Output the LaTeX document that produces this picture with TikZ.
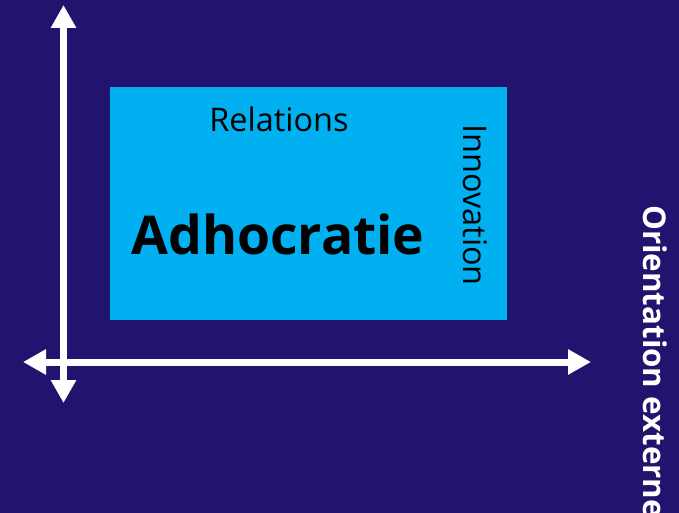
\documentclass[tikz,border=0pt]{standalone}
\usepackage{fontspec}
\setmainfont{Open Sans}
\usetikzlibrary{arrows.meta}

\definecolor{navy}{RGB}{32,20,110}
\definecolor{boxcyan}{RGB}{0,176,240}

\tikzset{
  axis/.style={line width=7pt,white,{Triangle[width=24pt,length=23pt]}-{Triangle[width=24pt,length=23pt]}},
  label/.style={inner sep=0pt,font=\fontsize{32.5}{38}\selectfont}
}

\begin{document}
\begin{tikzpicture}[x=1pt,y=-1pt]
  \fill[navy] (0,0) rectangle (679,513);
  \useasboundingbox (0,0) rectangle (679,513);
  % the quadrant box
  \node[fill=boxcyan,minimum width=397pt,minimum height=233pt,inner sep=0pt] (box) at (308.5,203.5) {};
  \node[label] (relations) at (279,119) {Relations};
  \node[label,font=\bfseries\fontsize{53.5}{60}\selectfont] (adhoc) at (278,234) {Adhocratie};
  \node[label,rotate=-90] (innov) at (475,205) {Innovation};
  \node[label,font=\bfseries\fontsize{31.3}{38}\selectfont,text=white,rotate=-90,anchor=west] (orient) at (655,205) {Orientation externe};
  % axes
  \coordinate (ytop) at (63.5,5);
  \coordinate (ybot) at (63.5,403);
  \coordinate (xleft) at (23,362);
  \coordinate (xright) at (591,362);
  \draw[axis] (ybot)--(ytop);
  \draw[axis] (xleft)--(xright);
\end{tikzpicture}
\end{document}
